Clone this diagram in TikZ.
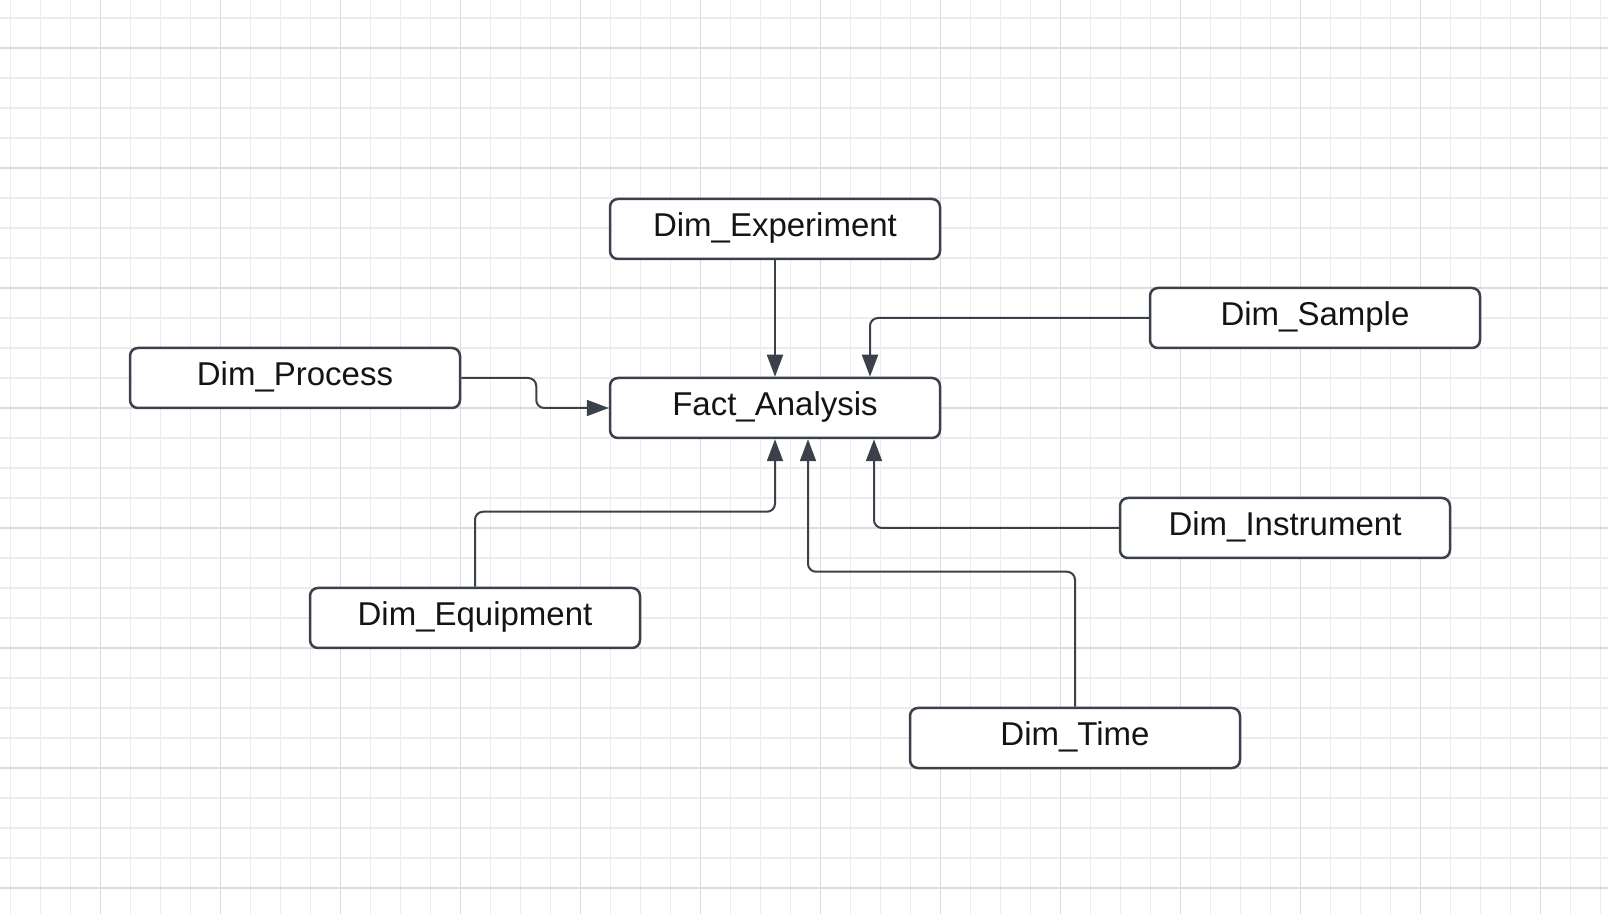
\documentclass[tikz,border=0pt]{standalone}
\usepackage{fontspec}
\setmainfont{Liberation Sans}
\usetikzlibrary{arrows.meta}
\definecolor{linec}{RGB}{58,65,74}
\definecolor{gridminor}{RGB}{236,236,236}
\definecolor{gridmajor}{RGB}{220,220,220}
\definecolor{textc}{RGB}{20,20,20}
\tikzset{
  tbl/.style={draw=linec, line width=1.25pt, rounded corners=4pt, fill=white,
    minimum width=165pt, minimum height=30pt, inner sep=0pt,
    text height=12pt, text depth=4.5pt, text=textc,
    font=\fontsize{16.5}{20}\selectfont},
  conn/.style={draw=linec, line width=1pt, rounded corners=4pt,
    -{Triangle[length=11pt,width=8pt]}},
}
\begin{document}
\begin{tikzpicture}[x=0.5pt,y=-0.5pt]
\useasboundingbox (0,0) rectangle (1608,914);
\fill[white] (0,0) rectangle (1608,914);
% grid
\foreach \k in {0,...,53} {
  \draw[gridminor, line width=0.6pt] ({10.3+30*\k},0) -- ({10.3+30*\k},914);
}
\foreach \k in {0,...,30} {
  \draw[gridminor, line width=0.6pt] (0,{18+30*\k}) -- (1608,{18+30*\k});
}
\foreach \k in {0,...,12} {
  \draw[gridmajor, line width=0.6pt] ({100.3+120*\k},0) -- ({100.3+120*\k},914);
}
\foreach \k in {0,...,7} {
  \draw[gridmajor, line width=0.6pt] (0,{48+120*\k}) -- (1608,{48+120*\k});
}
% nodes
\node[tbl] (exp)   at (775,229)  {Dim\_Experiment};
\node[tbl] (fact)  at (775,408)  {Fact\_Analysis};
\node[tbl] (proc)  at (295,378)  {Dim\_Process};
\node[tbl] (samp)  at (1315,318) {Dim\_Sample};
\node[tbl] (inst)  at (1285,528) {Dim\_Instrument};
\node[tbl] (equip) at (475,618)  {Dim\_Equipment};
\node[tbl] (time)  at (1075,738) {Dim\_Time};
% connectors
\draw[conn] (exp.south) -- (fact.north);
\draw[conn] (samp.west) -| ([xshift=47.5pt]fact.north);
\draw[conn] (proc.east) -- ++(75,0) |- (fact.west);
\draw[conn] (equip.north) -- ++(0,-75) -| (fact.south);
\draw[conn] (time.north) -- ++(0,-135) -| ([xshift=16.5pt]fact.south);
\draw[conn] (inst.west) -| ([xshift=49.5pt]fact.south);
\end{tikzpicture}
\end{document}
